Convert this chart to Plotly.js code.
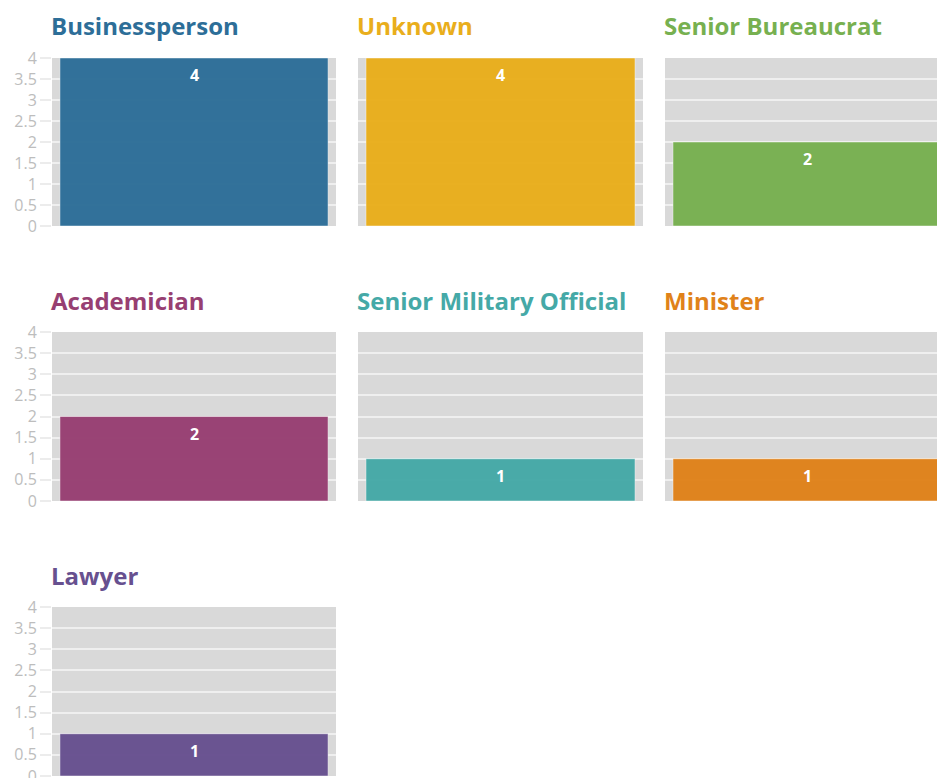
<!DOCTYPE html>
<html>
<head>
<meta charset="utf-8">
<script src="https://cdn.plot.ly/plotly-3.0.1.min.js"></script>
<style>
  html, body { margin: 0; padding: 0; overflow: hidden; background: #fff; }
  #plot { width: 960px; height: 800px; }
</style>
</head>
<body>
<div id="plot"></div>
<script>
// one small panel per role
const roles = ['Businessperson', 'Unknown', 'Senior Bureaucrat', 'Academician',
  'Senior Military Official', 'Minister', 'Lawyer'];
const counts = [4, 4, 2, 2, 1, 1, 1];
const colors = ['#2d6e98', '#e9ae1c', '#77b050', '#973f72', '#45a9a7', '#e0821a', '#67508f'];
const tickVals = [0, 0.5, 1, 1.5, 2, 2.5, 3, 3.5, 4];
const tickText = ['0', '0.5', '1', '1.5', '2', '2.5', '3', '3.5', '4'];

const W = 960, H = 800;
const cols = [[52, 336], [358, 643], [665, 950]];
const rows = [[58, 226], [332, 501], [607, 776]];

let data = [];
let layout = {
  width: W, height: H,
  margin: {l: 0, r: 0, t: 0, b: 0},
  paper_bgcolor: '#fff',
  plot_bgcolor: '#d9d9d9',
  showlegend: false,
  bargap: 0.056,
  font: {family: '"Open Sans", sans-serif'},
  annotations: []
};

roles.forEach(function(role, i) {
  let c = i % 3, r = Math.floor(i / 3);
  let n = i === 0 ? '' : String(i + 1);
  let xd = [cols[c][0] / W, cols[c][1] / W];
  let yd = [1 - rows[r][1] / H, 1 - rows[r][0] / H];

  data.push({
    type: 'bar',
    x: [role],
    y: [counts[i]],
    xaxis: 'x' + n,
    yaxis: 'y' + n,
    marker: {color: colors[i], opacity: 0.97, line: {color: 'rgba(255,255,255,0.45)', width: 1}},
    hoverinfo: 'none'
  });

  layout['xaxis' + n] = {
    domain: xd, type: 'category', range: [-0.5, 0.5],
    showticklabels: false, showgrid: false, zeroline: false, fixedrange: true
  };
  layout['yaxis' + n] = {
    domain: yd, range: [0, 4],
    tickvals: tickVals, ticktext: tickText,
    showticklabels: c === 0,
    ticks: c === 0 ? 'outside' : '', ticklen: 11, tickcolor: '#ececec', tickwidth: 1.5,
    tickfont: {family: '"Open Sans", sans-serif', size: 16, color: '#bdbdbd'},
    gridcolor: '#efefef', gridwidth: 2, zeroline: false, fixedrange: true
  };

  // panel title
  layout.annotations.push({
    text: '<b>' + role + '</b>',
    xref: 'paper', yref: 'paper',
    x: xd[0], y: yd[1] + 32 / H, xshift: -3,
    xanchor: 'left', yanchor: 'middle', showarrow: false,
    font: {family: '"Open Sans", sans-serif', size: 24, color: colors[i]}
  });

  // value label near the top of the bar
  layout.annotations.push({
    text: '<b>' + counts[i] + '</b>',
    xref: 'x' + n, yref: 'y' + n,
    x: role, y: counts[i], yshift: -17,
    xanchor: 'center', yanchor: 'middle', showarrow: false,
    font: {family: '"Open Sans", sans-serif', size: 16, color: '#ffffff'}
  });
});

Plotly.newPlot('plot', data, layout, {displayModeBar: false});
</script>
</body>
</html>
